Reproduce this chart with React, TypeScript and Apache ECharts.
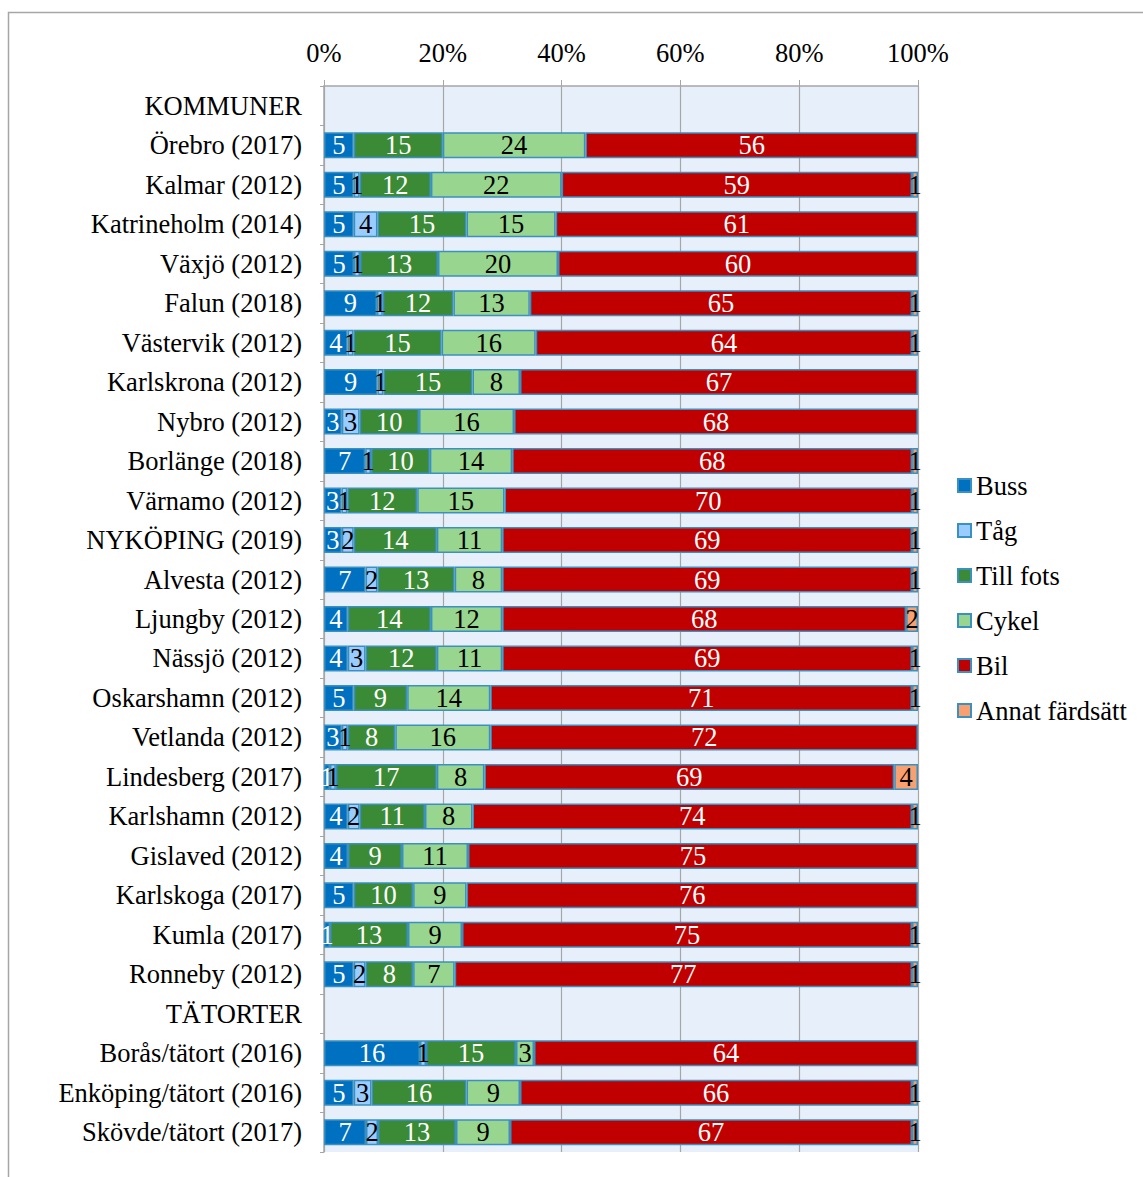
import React, { useEffect, useRef } from "react";
import * as echarts from "echarts";

const categories = [
  "KOMMUNER",
  "Örebro (2017)",
  "Kalmar (2012)",
  "Katrineholm (2014)",
  "Växjö (2012)",
  "Falun (2018)",
  "Västervik (2012)",
  "Karlskrona (2012)",
  "Nybro (2012)",
  "Borlänge (2018)",
  "Värnamo (2012)",
  "NYKÖPING (2019)",
  "Alvesta (2012)",
  "Ljungby (2012)",
  "Nässjö (2012)",
  "Oskarshamn (2012)",
  "Vetlanda (2012)",
  "Lindesberg (2017)",
  "Karlshamn (2012)",
  "Gislaved (2012)",
  "Karlskoga (2017)",
  "Kumla (2017)",
  "Ronneby (2012)",
  "TÄTORTER",
  "Borås/tätort (2016)",
  "Enköping/tätort (2016)",
  "Skövde/tätort (2017)",
];

const buss = [null, 5, 5, 5, 5, 9, 4, 9, 3, 7, 3, 3, 7, 4, 4, 5, 3, 1, 4, 4, 5, 1, 5, null, 16, 5, 7];
const tag = [null, 0, 1, 4, 1, 1, 1, 1, 3, 1, 1, 2, 2, 0, 3, 0, 1, 1, 2, 0, 0, 0, 2, null, 1, 3, 2];
const tillFots = [null, 15, 12, 15, 13, 12, 15, 15, 10, 10, 12, 14, 13, 14, 12, 9, 8, 17, 11, 9, 10, 13, 8, null, 15, 16, 13];
const cykel = [null, 24, 22, 15, 20, 13, 16, 8, 16, 14, 15, 11, 8, 12, 11, 14, 16, 8, 8, 11, 9, 9, 7, null, 3, 9, 9];
const bil = [null, 56, 59, 61, 60, 65, 64, 67, 68, 68, 70, 69, 69, 68, 69, 71, 72, 69, 74, 75, 76, 75, 77, null, 64, 66, 67];
const annat = [null, 0, 1, 0, 0, 1, 1, 0, 0, 1, 1, 1, 1, 2, 1, 1, 0, 4, 1, 0, 0, 1, 1, null, 0, 1, 1];

const seriesDefs = [
  { name: "Buss", values: buss, color: "#0070C0", text: "#FFFFFF" },
  { name: "Tåg", values: tag, color: "#99CCFF", text: "#000000" },
  { name: "Till fots", values: tillFots, color: "#3B8A35", text: "#FFFFFF" },
  { name: "Cykel", values: cykel, color: "#98D690", text: "#000000" },
  { name: "Bil", values: bil, color: "#C00000", text: "#FFFFFF" },
  { name: "Annat färdsätt", values: annat, color: "#F9A070", text: "#000000" },
];

const xTicks = [0, 20, 40, 60, 80, 100];

const FONT = "Liberation Serif";
const FS = 26.5;

export default function App() {
  const ref = useRef<HTMLDivElement>(null);

  useEffect(() => {
    if (!ref.current) return;
    const chart = echarts.init(ref.current, null, { renderer: "svg" });

    const totals = categories.map((_, i) =>
      seriesDefs.reduce((s, d) => s + ((d.values[i] as number) || 0), 0)
    );

    const series = seriesDefs.map((d) => ({
      name: d.name,
      type: "bar",
      stack: "total",
      barWidth: 26,
      itemStyle: { color: d.color, borderColor: "#3A90C0", borderWidth: 1.5 },
      label: {
        show: true,
        position: "inside",
        color: d.text,
        fontFamily: FONT,
        fontSize: FS,
        formatter: (p: any) => String(d.values[p.dataIndex]),
      },
      labelLayout: { hideOverlap: false },
      data: d.values.map((v, i) =>
        v && totals[i] ? (v as number) / totals[i] * 100 : "-"
      ),
    }));

    chart.setOption({
      animation: false,
      textStyle: { fontFamily: FONT },
      graphic: [
        {
          type: "rect",
          shape: { x: 8.5, y: 12.5, width: 1300, height: 1300 },
          style: { fill: "none", stroke: "#A6A6A6", lineWidth: 1.5 },
          silent: true,
        },
      ],
      grid: {
        left: 324,
        right: 225,
        top: 86,
        bottom: 25,
        show: true,
        backgroundColor: "#E7F0FA",
        borderWidth: 0,
      },
      legend: {
        orient: "vertical",
        left: 952,
        top: 467,
        itemWidth: 13,
        itemHeight: 13,
        itemGap: 18,
        icon: "rect",
        textStyle: { fontFamily: FONT, fontSize: FS, color: "#000", lineHeight: 26 },
        data: seriesDefs.map((d) => d.name),
      },
      xAxis: {
        type: "value",
        position: "top",
        min: xTicks[0],
        max: xTicks[xTicks.length - 1],
        interval: 20,
        axisLine: { show: true, lineStyle: { color: "#A6A6A6", width: 1.5 } },
        axisTick: { show: true, length: 6, lineStyle: { color: "#A6A6A6" } },
        axisLabel: {
          formatter: "{value}%",
          fontFamily: FONT,
          fontSize: FS,
          color: "#000",
          margin: 20,
        },
        splitLine: { show: true, lineStyle: { color: "#A6A6A6", width: 1.2 } },
      },
      yAxis: {
        type: "category",
        inverse: true,
        data: categories,
        axisLine: { show: true, lineStyle: { color: "#A6A6A6", width: 1.5 } },
        axisTick: { show: true, length: 4, lineStyle: { color: "#A6A6A6" } },
        axisLabel: {
          fontFamily: FONT,
          fontSize: FS,
          color: "#000",
          margin: 22,
        },
      },
      series,
    });

    return () => chart.dispose();
  }, []);

  return (
    <div
      ref={ref}
      style={{ position: "absolute", left: 0, top: 0, width: 1143, height: 1177, background: "#fff" }}
    />
  );
}
